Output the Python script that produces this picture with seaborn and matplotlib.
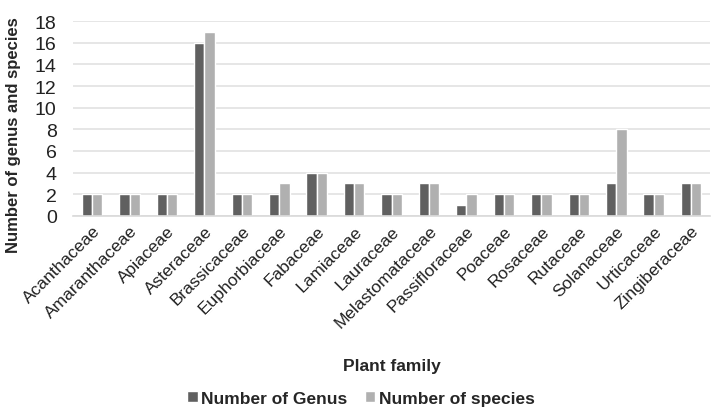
import pandas as pd
import seaborn as sns
import matplotlib.pyplot as plt

families = ['Acanthaceae', 'Amaranthaceae', 'Apiaceae', 'Asteraceae', 'Brassicaceae',
            'Euphorbiaceae', 'Fabaceae', 'Lamiaceae', 'Lauraceae', 'Melastomataceae',
            'Passifloraceae', 'Poaceae', 'Rosaceae', 'Rutaceae', 'Solanaceae',
            'Urticaceae', 'Zingiberaceae']
n_genus = [2, 2, 2, 16, 2, 2, 4, 3, 2, 3, 1, 2, 2, 2, 3, 2, 3]
n_species = [2, 2, 2, 17, 2, 3, 4, 3, 2, 3, 2, 2, 2, 2, 8, 2, 3]

df = pd.DataFrame({'family': families * 2,
                   'value': n_genus + n_species,
                   'series': ['Number of Genus'] * len(families) + ['Number of species'] * len(families)})

sns.set_style('white')
plt.rcParams['font.family'] = ['Liberation Sans', 'DejaVu Sans']

fig = plt.figure(figsize=(7.12, 4.10), dpi=100)
ax = fig.add_axes([0.103, 0.471, 0.894, 0.475])

sns.barplot(data=df, x='family', y='value', hue='series',
            palette=['#606060', '#b0b0b0'], width=0.55, ax=ax, saturation=1)

ax.set_ylim(0, 18)
ax.set_yticks(range(0, 19, 2))
ax.set_xlim(-0.5, len(families) - 0.5)
ax.yaxis.grid(True, color='#e2e2e2', linewidth=1.2)
ax.set_axisbelow(True)
for s in ['top', 'right', 'left']:
    ax.spines[s].set_visible(False)
ax.spines['bottom'].set_color('#d9d9d9')
ax.spines['bottom'].set_linewidth(1.2)
ax.tick_params(axis='y', labelsize=14, length=0, pad=12, colors='#222222')
ax.tick_params(axis='x', length=0, pad=5)
plt.setp(ax.get_xticklabels(), rotation=45, ha='right', rotation_mode='anchor',
         fontsize=12.5, color='#222222')

ax.set_xlabel('Plant family', fontsize=12.5, fontweight='bold', labelpad=20)
ax.set_ylabel('Number of genus and species', fontsize=12, fontweight='bold')
ax.yaxis.set_label_coords(-0.083, 0.42)

ax.get_legend().remove()
handles, labels = ax.get_legend_handles_labels()
fig.legend(handles, labels, loc='center', bbox_to_anchor=(0.507, 0.026), ncol=2, frameon=False,
           prop={'weight': 'bold', 'size': 12.5}, handlelength=0.6,
           handleheight=0.6, handletextpad=0.2, columnspacing=1.0)

fig.savefig('out.png', dpi=100)
